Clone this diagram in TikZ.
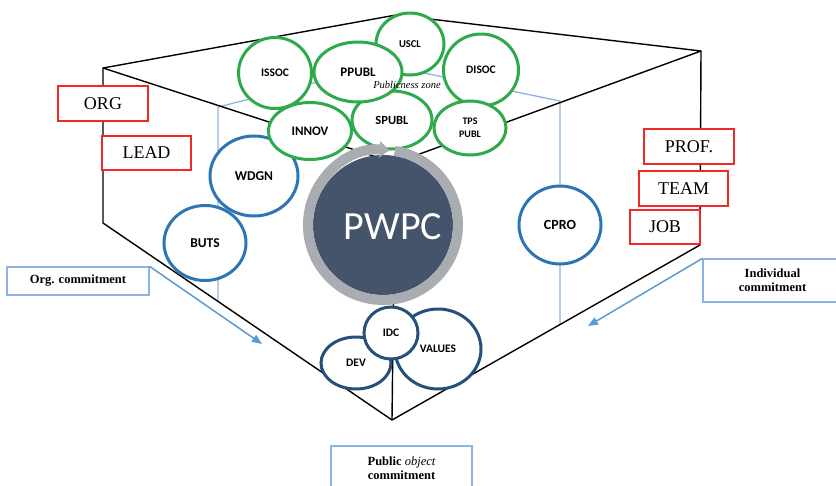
\documentclass[tikz,border=0pt]{standalone}
\usepackage{fontspec}
\setmainfont{Liberation Serif}
\newfontfamily\calibri{Carlito}
\usetikzlibrary{arrows.meta,shapes.geometric,calc}
\definecolor{zonegreen}{HTML}{2EAA4A}
\definecolor{sideblue}{HTML}{2E75B6}
\definecolor{coreblue}{HTML}{25507A}
\definecolor{innerblue}{HTML}{8DB3E2}
\definecolor{arrowblue}{HTML}{5B9BD5}
\definecolor{levelred}{HTML}{F02828}
\definecolor{ringgray}{HTML}{A9ACB1}
\definecolor{coredark}{HTML}{44546A}

\begin{document}
\begin{tikzpicture}[x=1pt,y=1pt,
  edge/.style={line width=1.4pt,line join=round},
  inner/.style={line width=1.3pt,innerblue},
  bubble/.style={ellipse,draw,fill=white,line width=3pt,inner sep=0pt,align=center,
    font=\calibri\bfseries\fontsize{11.5}{12}\selectfont},
  zone/.style={bubble,draw=zonegreen},
  side/.style={bubble,draw=sideblue,font=\calibri\bfseries\fontsize{13.5}{14}\selectfont},
  core/.style={bubble,draw=coreblue},
  level/.style={draw=levelred,fill=white,line width=1.2pt,minimum height=35pt,
    font=\fontsize{18}{20}\selectfont},
  commit/.style={draw=innerblue,line width=1.2pt,align=center,
    font=\bfseries\fontsize{12.5}{14}\selectfont},
  push/.style={-{Triangle[length=10pt,width=8pt]},line width=1.5pt,arrowblue}]
  \useasboundingbox (0,0) rectangle (836,-485);
  \coordinate (a) at (103,-68);
  \coordinate (b) at (396,-15);
  \coordinate (r) at (701,-51);
  \coordinate (f) at (395,-163);
  \coordinate (al) at (103,-223);
  \coordinate (rl) at (700,-245);
  \coordinate (v) at (392,-420);
  \coordinate (p) at (218,-107);
  \coordinate (q) at (385,-65);
  \coordinate (s) at (560,-101);
  \draw[inner] (218,-301) -- (p) -- (q) -- (s) -- (560,-324);
  \draw[edge] (a) -- (b) -- (r) -- (f) -- cycle;
  \draw[edge] (a) -- (al) -- (v) -- (rl) -- (r);
  \draw[edge] (f) -- (v);

  \node[commit,minimum width=142pt,minimum height=28pt] (orgc) at (78,-281) {Org. commitment};
  \node[commit,minimum width=139pt,minimum height=43pt] (indc) at (772.5,-280.5) {Individual\\commitment};
  \node[commit,minimum width=141pt,minimum height=44pt] (pubc) at (401.5,-468) {Public {\mdseries\itshape object}\\commitment};
  \coordinate (orgtip) at (262,-344);
  \coordinate (indtip) at (588,-326);
  \draw[push] (orgc.north east) -- (orgtip);
  \draw[push] (indc.north west) -- (indtip);

  \node[side,minimum width=88pt,minimum height=80pt] (wdgn) at (254,-176) {WDGN};
  \node[side,minimum width=82pt,minimum height=75pt] (buts) at (205,-243) {BUTS};
  \node[side,minimum width=82pt,minimum height=78pt,font=\calibri\bfseries\fontsize{14}{15}\selectfont] (cpro) at (560,-225) {CPRO};

  \node[zone,minimum width=68pt,minimum height=62pt,font=\calibri\bfseries\fontsize{10.5}{11}\selectfont] (uscl) at (410,-44) {USCL};
  \node[zone,minimum width=73pt,minimum height=71pt] (issoc) at (275,-73) {ISSOC};
  \node[zone,minimum width=75pt,minimum height=72pt] (disoc) at (481,-70) {DISOC};
  \node[zone,minimum width=80pt,minimum height=58pt,font=\calibri\bfseries\fontsize{12.5}{13}\selectfont] (spubl) at (392,-120) {SPUBL};
  \node[zone,minimum width=88pt,minimum height=60pt,font=\calibri\bfseries\fontsize{13}{14}\selectfont] (ppubl) at (358,-72) {PPUBL};
  \node[zone,minimum width=83pt,minimum height=57pt,font=\calibri\bfseries\fontsize{13}{14}\selectfont] (innov) at (310,-131) {INNOV};
  \node[zone,minimum width=72pt,minimum height=54pt,font=\calibri\bfseries\fontsize{10}{13}\selectfont] (tps) at (470,-128) {TPS\\PUBL};

  \node[core,minimum width=70pt,minimum height=52pt] (dev) at (356,-363) {DEV};
  \node[core,minimum width=86pt,minimum height=80pt] (values) at (438,-349) {VALUES};
  \node[core,minimum width=54pt,minimum height=52pt] (idc) at (391,-333) {IDC};

  \node[circle,fill=coredark,minimum size=140pt] (pwpc) at (383,-225) {};
  \draw[ringgray,line width=10pt,-{Triangle[length=10pt,width=16pt]}] (pwpc.center) ++(81:75) arc[start angle=81,end angle=-275,radius=75];
  \node[text=white,font=\calibri\fontsize{40}{40}\selectfont] (pwpctext) at (393,-227) {PWPC};

  \node[level,minimum width=90pt] (org) at (103,-103.5) {ORG};
  \node[level,minimum width=89pt,minimum height=34pt] (lead) at (146.5,-153) {LEAD};
  \node[level,minimum width=90pt] (prof) at (689,-146.5) {PROF.};
  \node[level,minimum width=89pt] (team) at (683.5,-188.5) {TEAM};
  \node[level,minimum width=70pt,minimum height=34pt] (job) at (665,-227) {JOB};

  \node[font=\itshape\fontsize{10.5}{12}\selectfont] (zonetext) at (407,-85) {Publicness zone};
\end{tikzpicture}
\end{document}
